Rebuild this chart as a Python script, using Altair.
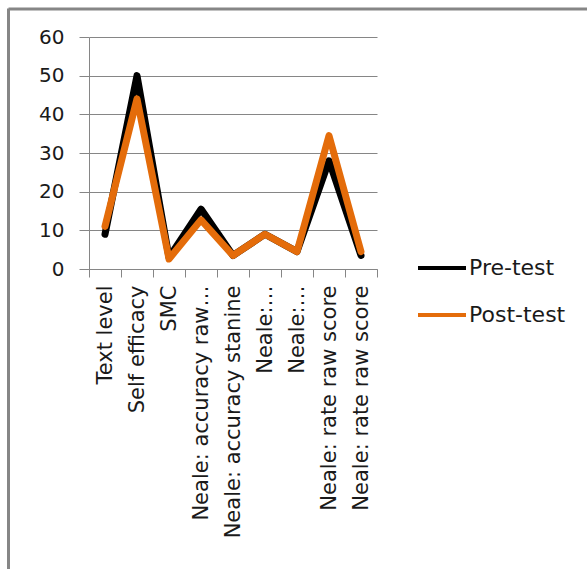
import altair as alt
import pandas as pd

# Category labels along the x axis (two pairs share the same printed text)
categories = [
    "Text level",
    "Self efficacy",
    "SMC",
    "Neale: accuracy  raw…",
    "Neale: accuracy stanine",
    "Neale:…",
    "Neale:…",
    "Neale: rate raw score",
    "Neale: rate raw score",
]
pre_test = [9, 50, 3, 15.5, 3.5, 9, 4.5, 28, 3.5]
post_test = [11, 44, 2.6, 12.7, 3.5, 9, 4.5, 34.5, 4.5]
series_names = ["Pre-test", "Post-test"]
series_colors = ["#000000", "#E46C0A"]
y_ticks = [0, 10, 20, 30, 40, 50, 60]

rows = []
for name, values in zip(series_names, [pre_test, post_test]):
    for i, v in enumerate(values):
        rows.append({"idx": i, "series": name, "value": v})
df = pd.DataFrame(rows)

label_expr = "[" + ",".join("'" + c + "'" for c in categories) + "][datum.value]"

GRID = "#868686"
FONT = "DejaVu Sans"

lines = alt.Chart(df).mark_line(
    strokeWidth=7, strokeJoin="round", strokeCap="round"
).encode(
    x=alt.X(
        "idx:O",
        bandPosition=0.5,
        scale=alt.Scale(type="band", paddingInner=0, paddingOuter=0),
        axis=alt.Axis(
            title=None,
            labelExpr=label_expr,
            labelAngle=270,
            labelAlign="right",
            labelBaseline="middle",
            labelPadding=8,
            labelLimit=0,
            labelFont=FONT,
            labelFontSize=21,
            labelColor="#1a1a1a",
            tickBand="extent",
            tickSize=8,
            tickColor=GRID,
            domainColor=GRID,
            grid=False,
        ),
    ),
    y=alt.Y(
        "value:Q",
        scale=alt.Scale(domain=[0, 60], nice=False),
        axis=alt.Axis(
            title=None,
            values=y_ticks,
            labelFont=FONT,
            labelFontSize=20,
            labelColor="#1a1a1a",
            labelPadding=15,
            tickSize=10,
            tickColor=GRID,
            domainColor=GRID,
            grid=True,
            gridColor=GRID,
            gridWidth=1,
        ),
    ),
    color=alt.Color(
        "series:N",
        scale=alt.Scale(domain=series_names, range=series_colors),
        sort=series_names,
        legend=alt.Legend(
            title=None,
            orient="none",
            legendX=327,
            legendY=205,
            symbolType="stroke",
            symbolSize=2304,
            symbolStrokeWidth=4,
            labelOffset=1,
            labelFont=FONT,
            labelFontSize=22,
            labelColor="#1a1a1a",
            rowPadding=10,
            padding=0,
        ),
    ),
    order=alt.Order("series_order:Q"),
).transform_calculate(series_order="datum.series === 'Pre-test' ? 0 : 1")

# Gray frame drawn along the top and left edges
frame_src = pd.DataFrame({"k": [0]})
frame_left = alt.Chart(frame_src).mark_rule(color=GRID, strokeWidth=3).encode(
    x=alt.value(-80.5), y=alt.value(-28.5), y2=alt.value(560)
)
frame_top = alt.Chart(frame_src).mark_rule(color=GRID, strokeWidth=3).encode(
    x=alt.value(-80.5), x2=alt.value(520), y=alt.value(-28)
)

chart = alt.layer(lines, frame_left, frame_top).properties(
    width=288,
    height=232,
    autosize=alt.AutoSizeParams(type="none"),
    padding={"left": 89, "top": 37, "right": 210, "bottom": 300},
    background="white",
).configure_view(stroke=None)

chart.save("out.html", embed_options={"renderer": "svg", "actions": False})
